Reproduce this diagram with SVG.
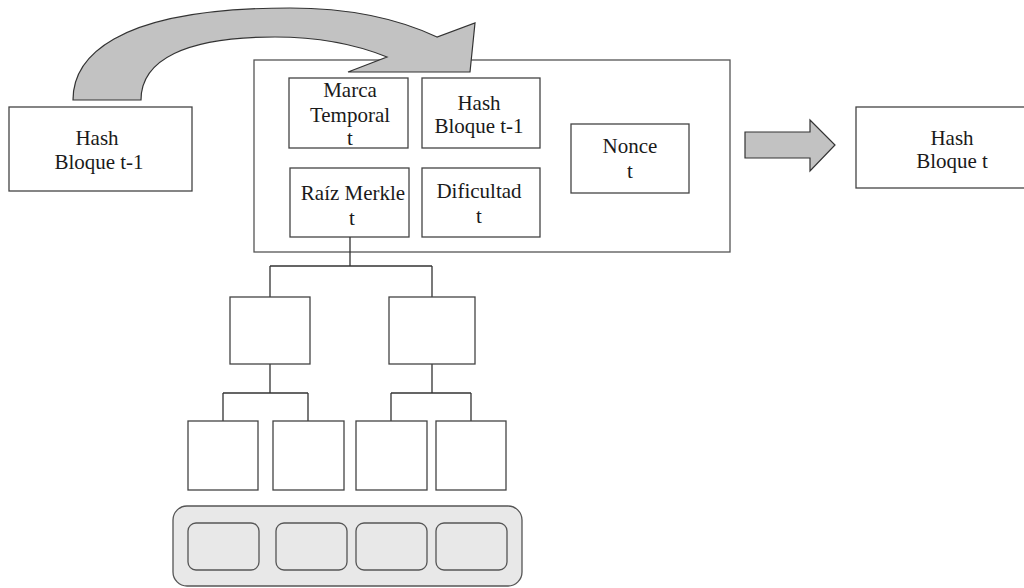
<svg xmlns="http://www.w3.org/2000/svg" width="1024" height="588" viewBox="0 0 1024 588">
  <style>
    .box { fill: #ffffff; stroke: #444444; stroke-width: 1.3; }
    .frame { fill: #ffffff; stroke: #555555; stroke-width: 1.3; }
    .arrow { fill: #c2c2c2; stroke: #333333; stroke-width: 1.2; stroke-linejoin: miter; }
    .lbl { font-family: 'Liberation Serif', 'DejaVu Serif', serif; font-size: 21px; fill: #1a1a1a; text-anchor: middle; }
    .link { fill: none; stroke: #333333; stroke-width: 1.3; }
    .pool { fill: #e8e8e8; stroke: #555555; stroke-width: 1.3; }
  </style>

  <rect width="1024" height="588" fill="#ffffff"/>

  <!-- previous block hash -->
  <g id="prev-hash">
    <rect class="box" x="9" y="107" width="183" height="84"/>
    <text class="lbl" x="97" y="145">Hash</text>
    <text class="lbl" x="99" y="169">Bloque t-1</text>
  </g>

  <!-- block header frame -->
  <g id="header">
    <rect class="frame" x="254" y="60" width="476" height="192"/>
  </g>

  <!-- curved arrow from previous hash into the header -->
  <g id="curved-arrow">
    <path class="arrow" d="M73,100 C73,60 110,8 290,8 C360,8 405,22 437,37 L475,23 L470,72 L348,72 L387,57 C350,42 310,37 275,37 C185,37 141,60 141,100 Z"/>
  </g>

  <g id="timestamp">
    <rect class="box" x="289" y="78" width="119" height="70"/>
    <text class="lbl" x="350" y="97">Marca</text>
    <text class="lbl" x="350" y="122">Temporal</text>
    <text class="lbl" x="350" y="145">t</text>
  </g>

  <g id="hash-prev-inner">
    <rect class="box" x="422" y="78" width="118" height="70"/>
    <text class="lbl" x="479" y="110">Hash</text>
    <text class="lbl" x="479" y="133">Bloque t-1</text>
  </g>

  <g id="merkle-root">
    <rect class="box" x="290" y="168" width="119" height="69"/>
    <text class="lbl" x="353" y="200">Raíz Merkle</text>
    <text class="lbl" x="352" y="225">t</text>
  </g>

  <g id="difficulty">
    <rect class="box" x="422" y="168" width="118" height="69"/>
    <text class="lbl" x="479" y="198">Dificultad</text>
    <text class="lbl" x="479" y="223">t</text>
  </g>

  <g id="nonce">
    <rect class="box" x="571" y="124" width="118" height="69"/>
    <text class="lbl" x="630" y="153">Nonce</text>
    <text class="lbl" x="630" y="178">t</text>
  </g>

  <!-- block arrow to resulting hash -->
  <g id="block-arrow">
    <path class="arrow" d="M745,132 L810,132 L810,120 L835,145 L810,171 L810,158 L745,158 Z"/>
  </g>

  <g id="hash-t">
    <rect class="box" x="856" y="107" width="175" height="81"/>
    <text class="lbl" x="952" y="145">Hash</text>
    <text class="lbl" x="952" y="168">Bloque t</text>
  </g>

  <!-- merkle tree connectors -->
  <g id="connectors">
    <path class="link" d="M350,237 V266 M270,266 H432 M270,266 V297 M432,266 V297"/>
    <path class="link" d="M270,364 V393 M223,393 H308 M223,393 V421 M308,393 V421"/>
    <path class="link" d="M432,364 V393 M391,393 H471 M391,393 V421 M471,393 V421"/>
  </g>

  <g id="node-l">
    <rect class="box" x="230" y="297" width="80" height="67"/>
  </g>
  <g id="node-r">
    <rect class="box" x="389" y="297" width="86" height="67"/>
  </g>

  <g id="leaf-1"><rect class="box" x="188" y="421" width="70" height="69"/></g>
  <g id="leaf-2"><rect class="box" x="273" y="421" width="71" height="69"/></g>
  <g id="leaf-3"><rect class="box" x="356" y="421" width="71" height="69"/></g>
  <g id="leaf-4"><rect class="box" x="436" y="421" width="70" height="69"/></g>

  <!-- transactions -->
  <g id="transactions">
    <rect class="pool" x="173" y="506" width="349" height="80" rx="14"/>
    <rect class="pool" x="188" y="523" width="71" height="47" rx="8"/>
    <rect class="pool" x="276" y="523" width="71" height="47" rx="8"/>
    <rect class="pool" x="356" y="523" width="71" height="47" rx="8"/>
    <rect class="pool" x="436" y="523" width="71" height="47" rx="8"/>
  </g>
</svg>
